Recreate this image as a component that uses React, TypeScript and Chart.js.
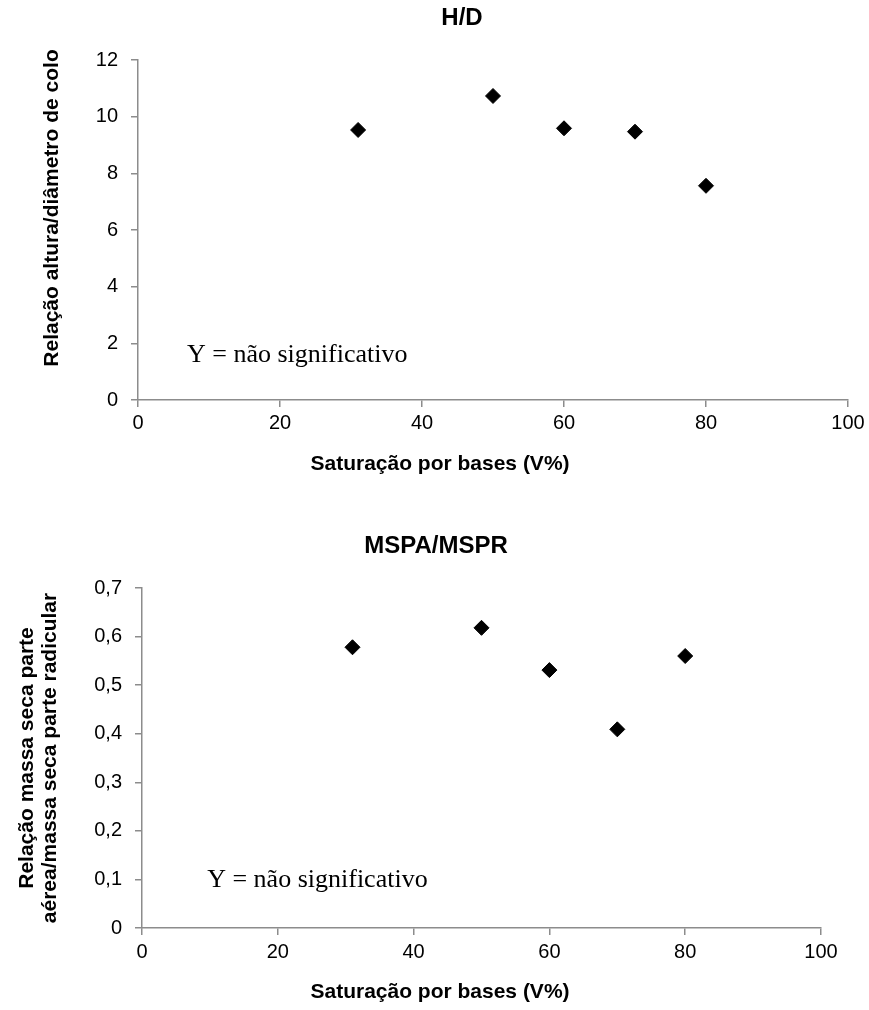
import React, { useEffect, useRef } from "react";
import { Chart, registerables } from "chart.js";

Chart.register(...registerables);

// ---------- data ----------
const saturacao = [31, 50, 60, 70, 80];
const relacaoHD = [9.53, 10.73, 9.59, 9.47, 7.56];
const relacaoMSPA_MSPR = [0.578, 0.618, 0.531, 0.409, 0.56];

const xTickValues = [0, 20, 40, 60, 80, 100];
const yTicksHD = ["0", "2", "4", "6", "8", "10", "12"];
const yTicksMS = ["0", "0,1", "0,2", "0,3", "0,4", "0,5", "0,6", "0,7"];

const titleHD = "H/D";
const titleMS = "MSPA/MSPR";
const yTitleHD = ["Relação altura/diâmetro de colo"];
const yTitleMS = ["Relação massa seca parte", "aérea/massa seca parte radicular"];
const xTitle = "Saturação por bases (V%)";
const noteText = "Y = não significativo";
// annotation anchor in data units [x, y]
const noteHD = [6.9, 1.34];
const noteMS = [9.6, 0.084];

const SANS = '"Liberation Sans", Arial, sans-serif';
const SERIF = '"Liberation Serif", "Times New Roman", serif';
const AXIS = "#8c8c8c";

const textsPlugin = {
  id: "texts",
  afterDraw(chart: any, _args: any, o: any) {
    const ctx = chart.ctx as CanvasRenderingContext2D;
    const sx = chart.scales.x;
    const sy = chart.scales.y;
    ctx.save();
    ctx.fillStyle = "#000";
    // chart title
    ctx.font = `bold 24px ${SANS}`;
    ctx.textAlign = "center";
    ctx.textBaseline = "middle";
    ctx.fillText(o.title, o.titleX, o.titleY);
    // x title
    ctx.font = `bold 21px ${SANS}`;
    ctx.fillText(o.xTitle, o.xTitleX, o.xTitleY);
    // y title (rotated)
    const lines: string[] = o.yTitle;
    const lh = 23;
    ctx.save();
    ctx.translate(o.yTitleX, o.yTitleY);
    ctx.rotate(-Math.PI / 2);
    const first = -((lines.length - 1) * lh) / 2;
    lines.forEach((ln, i) => ctx.fillText(ln, 0, first + i * lh));
    ctx.restore();
    // annotation
    ctx.font = `26px ${SERIF}`;
    ctx.textAlign = "left";
    ctx.textBaseline = "alphabetic";
    ctx.fillText(o.note, sx.getPixelForValue(o.noteAt[0]), sy.getPixelForValue(o.noteAt[1]));
    ctx.restore();
  },
};

function makeConfig(p: any) {
  return {
    type: "scatter",
    data: {
      datasets: [
        {
          data: saturacao.map((x, i) => ({ x, y: p.values[i] })),
          pointStyle: "rectRot",
          pointRadius: 7.5,
          backgroundColor: "#000",
          borderColor: "#000",
          borderWidth: 1,
        },
      ],
    },
    options: {
      animation: false,
      responsive: false,
      layout: { padding: p.padding },
      plugins: {
        legend: { display: false },
        tooltip: { enabled: false },
        title: { display: false },
        texts: p.texts,
      },
      scales: {
        x: {
          type: "linear",
          min: 0,
          max: 100,
          afterBuildTicks: (s: any) => {
            s.ticks = xTickValues.map((v) => ({ value: v }));
          },
          afterFit: (s: any) => {
            s.height = p.xHeight;
          },
          ticks: {
            padding: p.xTickPad,
            color: "#000",
            font: { family: SANS, size: 20 },
            callback: (v: any) => String(v),
          },
          grid: { drawOnChartArea: false, drawTicks: true, tickLength: 7, color: AXIS, lineWidth: 1.5 },
          border: { display: true, color: AXIS, width: 1.5 },
        },
        y: {
          type: "linear",
          min: 0,
          max: p.yMax,
          afterBuildTicks: (s: any) => {
            s.ticks = p.yLabels.map((_: string, i: number) => ({ value: i * p.yStep }));
          },
          afterFit: (s: any) => {
            s.width = p.yWidth;
          },
          ticks: {
            padding: 13,
            color: "#000",
            font: { family: SANS, size: 20 },
            callback: (_v: any, i: number) => p.yLabels[i],
          },
          grid: { drawOnChartArea: false, drawTicks: true, tickLength: 7, color: AXIS, lineWidth: 1.5 },
          border: { display: true, color: AXIS, width: 1.5 },
        },
      },
    },
    plugins: [textsPlugin],
  };
}

function ScatterPanel({ params, width, height }: any) {
  const ref = useRef<HTMLCanvasElement | null>(null);
  useEffect(() => {
    if (!ref.current) return;
    const chart = new Chart(ref.current, makeConfig(params) as any);
    return () => chart.destroy();
  }, []);
  return <canvas ref={ref} width={width} height={height} style={{ display: "block" }} />;
}

const topParams = {
  values: relacaoHD,
  yMax: 12,
  yStep: 2,
  yLabels: yTicksHD,
  yWidth: 138,
  xHeight: 80,
  xTickPad: 4,
  padding: { top: 60, right: 21, left: 0, bottom: 0 },
  texts: {
    title: titleHD,
    titleX: 462,
    titleY: 18,
    xTitle,
    xTitleX: 440,
    xTitleY: 464,
    yTitle: yTitleHD,
    yTitleX: 52,
    yTitleY: 208,
    note: noteText,
    noteAt: noteHD,
  },
};

const bottomParams = {
  values: relacaoMSPA_MSPR,
  yMax: 0.7,
  yStep: 0.1,
  yLabels: yTicksMS,
  yWidth: 142,
  xHeight: 82,
  xTickPad: 5,
  padding: { top: 108, right: 48, left: 0, bottom: 0 },
  texts: {
    title: titleMS,
    titleX: 436,
    titleY: 66,
    xTitle,
    xTitleX: 440,
    xTitleY: 512,
    yTitle: yTitleMS,
    yTitleX: 38.5,
    yTitleY: 278,
    note: noteText,
    noteAt: noteMS,
  },
};

export default function App() {
  useEffect(() => {
    document.body.style.margin = "0";
    document.body.style.background = "#fff";
  }, []);
  return (
    <div style={{ width: 869, height: 1010, background: "#fff" }}>
      <ScatterPanel params={topParams} width={869} height={480} />
      <ScatterPanel params={bottomParams} width={869} height={530} />
    </div>
  );
}
